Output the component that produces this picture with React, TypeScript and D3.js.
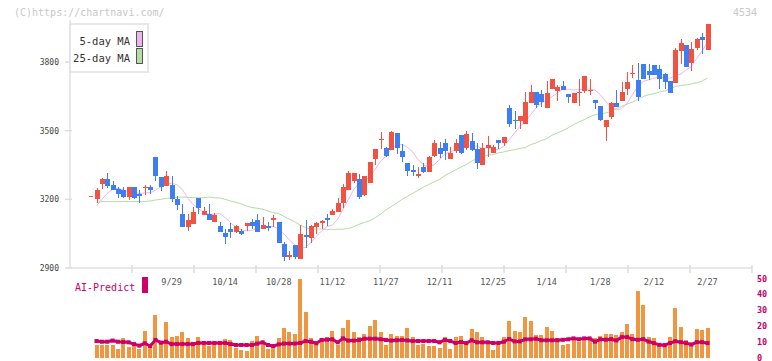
import React from "react";
import * as d3 from "d3";

// daily candles, 2025/9/5 .. 2026/2/27
const opens = [3200,3265,3291,3261,3243,3239,3210,3252,3223,3249,3252,3383,3296,3258,3261,3200,3135,3080,3093,3204,3132,3135,3101,3083,3052,3070,3058,3061,3083,3099,3109,3072,3083,3110,3100,3004,2949,3000,2939,3043,3029,3080,3097,3117,3130,3143,3183,3241,3280,3287,3221,3270,3378,3458,3426,3417,3491,3409,3357,3326,3304,3342,3319,3391,3426,3444,3375,3413,3483,3426,3457,3422,3352,3426,3404,3461,3448,3600,3548,3541,3530,3622,3670,3661,3597,3683,3674,3696,3661,3622,3670,3674,3677,3635,3609,3515,3561,3622,3630,3683,3747,3722,3791,3761,3787,3770,3748,3717,3709,3848,3874,3796,3861,3909,3852];
const highs = [3250,3293,3313,3282,3256,3256,3256,3252,3239,3261,3261,3383,3296,3322,3304,3214,3178,3135,3167,3204,3167,3178,3139,3101,3070,3096,3087,3070,3096,3113,3135,3123,3100,3132,3100,3012,2973,3000,3087,3109,3087,3099,3109,3138,3159,3204,3265,3323,3317,3309,3304,3361,3418,3496,3430,3500,3491,3443,3357,3348,3342,3357,3391,3461,3452,3465,3430,3465,3483,3500,3491,3444,3444,3478,3439,3461,3474,3610,3588,3565,3670,3699,3670,3678,3717,3726,3700,3717,3661,3665,3726,3739,3726,3635,3609,3548,3626,3678,3713,3757,3787,3796,3791,3791,3787,3787,3752,3717,3861,3900,3874,3887,3904,3926,3965];
const lows = [3185,3247,3248,3239,3206,3208,3197,3203,3184,3219,3223,3280,3236,3257,3188,3154,3080,3062,3093,3138,3132,3110,3101,3058,3006,3032,3051,3044,3061,3069,3058,3072,3062,3080,3009,2932,2935,2939,2939,2986,3009,3048,3069,3084,3130,3143,3161,3241,3270,3203,3215,3270,3349,3422,3383,3417,3396,3361,3302,3302,3294,3315,3319,3386,3381,3371,3375,3404,3396,3417,3413,3332,3352,3383,3404,3422,3435,3517,3509,3509,3530,3622,3600,3602,3597,3683,3631,3678,3622,3622,3609,3665,3655,3596,3541,3454,3552,3604,3630,3657,3730,3631,3726,3722,3744,3683,3683,3665,3709,3791,3778,3761,3852,3835,3852];
const closes = [3239,3291,3258,3240,3223,3210,3252,3206,3214,3256,3240,3301,3254,3304,3201,3175,3080,3110,3145,3162,3148,3110,3130,3058,3036,3058,3083,3048,3096,3083,3058,3087,3075,3117,3009,2949,2957,2949,3048,3036,3083,3096,3104,3110,3148,3183,3256,3313,3317,3210,3304,3361,3418,3465,3391,3496,3426,3383,3323,3319,3312,3319,3383,3448,3400,3409,3404,3448,3404,3487,3417,3357,3426,3439,3430,3444,3474,3530,3541,3565,3626,3670,3613,3626,3665,3726,3691,3678,3648,3665,3671,3739,3679,3622,3548,3548,3622,3604,3670,3713,3750,3648,3726,3744,3744,3726,3713,3665,3852,3883,3778,3857,3900,3896,3965];
const prevClose = 3216;

const ma5 = [3171,3200,3226,3243,3248,3241,3232,3229,3226,3228,3229,3239,3255,3265,3270,3264,3243,3207,3178,3160,3142,3135,3135,3138,3120,3099,3077,3067,3062,3065,3072,3077,3080,3081,3070,3048,3023,3000,2990,2990,3012,3038,3062,3081,3087,3113,3157,3200,3243,3268,3280,3301,3330,3367,3388,3417,3439,3440,3428,3407,3374,3352,3338,3352,3374,3399,3407,3417,3432,3436,3432,3432,3422,3425,3417,3417,3432,3461,3490,3519,3538,3570,3599,3620,3635,3649,3665,3681,3681,3678,3678,3681,3681,3678,3657,3628,3606,3591,3596,3620,3657,3693,3715,3722,3729,3733,3732,3729,3741,3747,3765,3780,3816,3848,3888];
const ma25 = [3185,3190,3190,3190,3190,3191,3190,3190,3190,3190,3193,3197,3200,3204,3206,3209,3210,3209,3207,3207,3207,3210,3207,3206,3200,3193,3187,3180,3171,3164,3161,3157,3149,3141,3138,3125,3113,3102,3087,3077,3070,3070,3070,3069,3069,3069,3070,3072,3081,3091,3099,3106,3120,3135,3154,3168,3183,3200,3213,3226,3240,3253,3265,3276,3287,3304,3316,3329,3341,3352,3367,3378,3386,3393,3396,3403,3407,3413,3417,3422,3426,3439,3446,3457,3465,3480,3490,3500,3512,3526,3538,3548,3560,3570,3574,3577,3584,3596,3606,3616,3625,3638,3649,3657,3662,3668,3674,3681,3693,3697,3700,3704,3709,3717,3730];

// lower panel
const volume = [7.9,7.9,7.9,7.9,5.4,12.3,6.6,7.3,5.4,16.8,6.6,26.9,10.4,22.5,13.0,13.6,16.1,12.3,7.9,13.0,10.4,7.3,9.8,9.8,11.7,11.1,6.0,4.7,4.1,10.4,13.6,8.5,5.4,7.9,12.3,18.7,16.1,14.9,49.7,28.8,12.3,7.9,10.4,13.0,16.8,7.9,18.7,23.7,16.1,13.0,14.9,19.9,23.7,16.1,7.9,14.9,13.6,13.6,18.7,13.0,7.9,8.5,7.3,7.3,6.0,13.0,5.4,13.0,13.6,8.5,18.0,16.1,13.0,8.5,4.7,7.9,13.0,23.1,16.8,16.1,25.6,23.1,14.2,14.2,19.3,16.8,12.3,7.9,8.5,11.7,9.8,11.7,11.7,12.3,13.6,15.0,15.0,14.3,16.2,21.3,15.0,42.2,33.3,12.9,12.4,9.1,9.1,12.9,31.4,19.4,10.8,7.0,18.1,17.5,18.8];
const aiPredict = [10.4,10.0,10.0,10.7,10.0,9.8,9.6,8.5,7.5,9.0,7.3,11.1,9.4,10.0,8.5,8.5,8.5,8.5,8.5,9.2,9.2,9.2,9.2,9.2,9.2,8.5,7.9,7.9,7.9,7.9,8.8,9.6,7.9,7.3,8.3,8.8,8.8,8.8,9.2,10.4,10.0,9.0,11.1,11.3,11.5,9.6,12.1,10.7,10.7,11.0,11.9,11.9,11.9,11.5,11.1,10.7,10.9,11.1,10.8,10.4,10.4,10.4,10.4,10.4,9.6,11.1,10.4,9.2,9.8,9.1,10.9,9.6,9.6,9.6,9.2,9.2,10.0,11.7,10.2,10.2,11.5,11.5,11.9,10.9,10.9,10.9,10.9,11.2,11.5,12.1,11.5,12.1,12.1,10.0,11.5,11.3,11.6,10.8,12.9,12.9,11.6,11.2,11.6,10.1,9.1,8.0,7.8,9.1,10.3,9.7,9.1,8.2,9.7,9.7,9.1];

const dateLabels = ["9/29","10/14","10/28","11/12","11/27","12/11","12/25","1/14","1/28","2/12","2/27"];
const dateIdx = [14,24,34,44,54,64,74,84,94,104,114];
const priceTicks = [2900,3200,3500,3800];
const subTicks = [0,10,20,30,40,50];

const UP = "#f25241";
const DOWN = "#3f7ef0";
const MONO = "'DejaVu Sans Mono', 'Liberation Mono', monospace";

export default function App() {
  const W = 772, H = 361;
  const left = 70, right = 752, bottom = 268;

  const x = d3.scaleLinear().domain([0, closes.length - 1]).range([96.5, 707.5]);
  const y = d3.scaleLinear().domain([2900, 3800]).range([bottom, 62]);
  const yv = d3.scaleLinear().domain([0, 50]).range([357.5, 278.5]);
  const grid = d3.scaleLinear().domain([0, 11]).range([left, right]);

  const maLine = d3.line<number>().x((d, i) => x(i)).y(d => y(d));
  const aiLine = d3.line<number>().x((d, i) => x(i)).y(d => yv(d));

  const bw = 5;

  return (
    <svg width={W} height={H} style={{ position: "absolute", left: 0, top: 0, background: "#fff" }}>
      {/* watermark + code */}
      <text x={14} y={16} fontFamily={MONO} fontSize={10} fill="#c8c8c8">(C)https://chartnavi.com/</text>
      <text x={757} y={16} textAnchor="end" fontFamily={MONO} fontSize={10} fill="#c8c8c8">4534</text>

      {/* axes */}
      <line x1={left} x2={left} y1={20} y2={bottom} stroke="#e0e0e0" strokeWidth={1.5} />
      <line x1={left} x2={right} y1={bottom} y2={bottom} stroke="#e0e0e0" strokeWidth={1.5} />
      {priceTicks.map(t => (
        <g key={t}>
          <line x1={65} x2={72} y1={y(t)} y2={y(t)} stroke="#ddd" strokeWidth={1.5} />
          <text x={59} y={y(t) + 3} textAnchor="end" fontFamily={MONO} fontSize={8} fill="#444">{t}</text>
        </g>
      ))}
      {d3.range(1, 12).map(k => (
        <line key={k} x1={grid(k)} x2={grid(k)} y1={265} y2={273} stroke="#ddd" strokeWidth={1.5} />
      ))}
      {dateLabels.map((d, k) => (
        <text key={d} x={x(dateIdx[k])} y={285} textAnchor="middle" fontFamily={MONO} fontSize={8.5} fill="#555">{d}</text>
      ))}

      {/* moving averages */}
      <path d={maLine(ma25) || ""} fill="none" stroke="#b4dca4" strokeWidth={1} />
      <path d={maLine(ma5) || ""} fill="none" stroke="#ecb6ec" strokeWidth={1} />

      {/* candles */}
      <g shapeRendering="crispEdges">
        <rect x={Math.round(x(-1) - 2)} y={Math.round(y(prevClose))} width={4} height={1} fill={UP} />
        {closes.map((c, i) => {
          const o = opens[i];
          const up = c >= o;
          const col = up ? UP : DOWN;
          const cx = Math.round(x(i));
          const top = Math.round(y(Math.max(o, c)));
          const bot = Math.round(y(Math.min(o, c)));
          return (
            <g key={i}>
              <rect x={cx} y={Math.round(y(highs[i]))} width={1} height={Math.max(1, Math.round(y(lows[i])) - Math.round(y(highs[i])))} fill={col} />
              <rect x={cx - 2} y={top} width={bw} height={Math.max(1, bot - top)} fill={col} />
            </g>
          );
        })}
      </g>

      {/* legend */}
      <rect x={70} y={24} width={78} height={48} fill="#fff" stroke="#e0e0e0" strokeWidth={1.5} />
      <text x={130} y={45} textAnchor="end" fontFamily={MONO} fontSize={10.5} fill="#333">5-day MA</text>
      <text x={130} y={62} textAnchor="end" fontFamily={MONO} fontSize={10.5} fill="#333">25-day MA</text>
      <rect x={136.5} y={31.5} width={6} height={15} fill="#ecb6ec" stroke="#555" />
      <rect x={136.5} y={48.5} width={6} height={15} fill="#b4dca4" stroke="#555" />

      {/* lower panel */}
      <g shapeRendering="crispEdges">
        {volume.map((v, i) => (
          <rect key={i} x={Math.round(x(i) - 2)} y={Math.round(yv(v))} width={4} height={Math.round(yv(0)) - Math.round(yv(v))} fill="#f19640" />
        ))}
      </g>
      <path d={aiLine(aiPredict) || ""} fill="none" stroke="#cc0066" strokeWidth={3} strokeLinejoin="round" />
      {aiPredict.map((v, i) => (
        <rect key={i} x={x(i) - 2} y={yv(v) - 2} width={4} height={4} fill="#cc0066" />
      ))}
      <text x={75} y={291} fontFamily={MONO} fontSize={10} fill="#cc0066">AI-Predict</text>
      <rect x={142} y={277} width={6} height={16} fill="#cc0066" />
      {subTicks.map(t => (
        <text key={t} x={757} y={yv(t) + 3} fontFamily={MONO} fontSize={8.5} fontWeight="bold" fill="#cc0066">{t}</text>
      ))}
    </svg>
  );
}
